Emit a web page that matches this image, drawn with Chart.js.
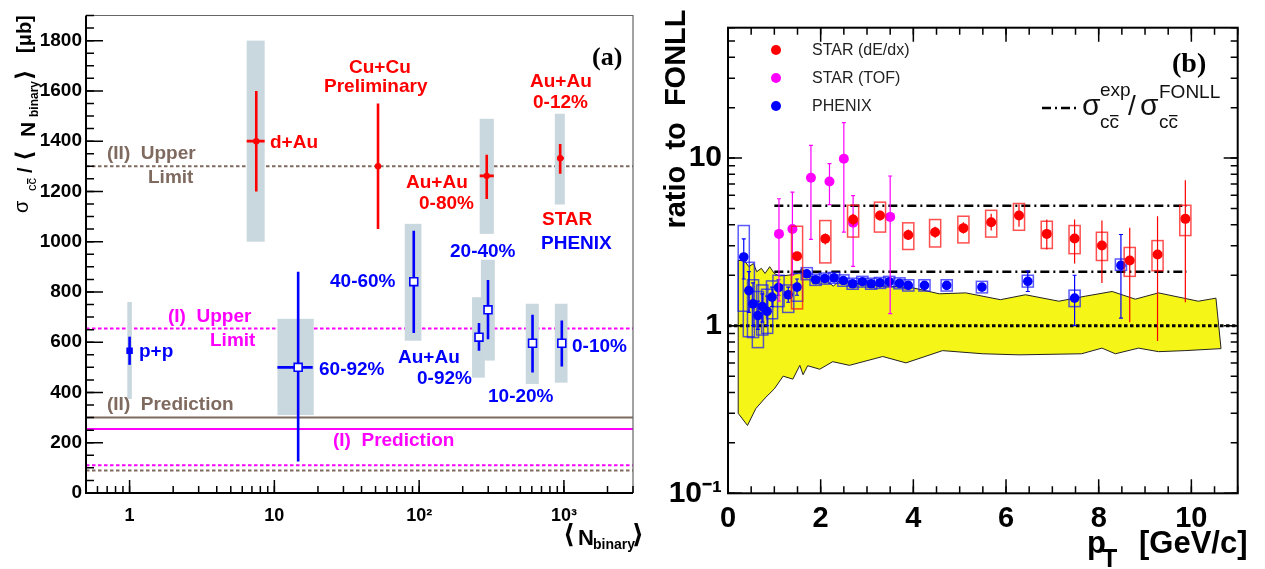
<!DOCTYPE html>
<html>
<head>
<meta charset="utf-8">
<script src="https://cdn.jsdelivr.net/npm/chart.js@4.4.1/dist/chart.umd.min.js"></script>
<style>
  html, body { margin: 0; padding: 0; background: #fff; }
  #wrap { position: relative; width: 1265px; height: 569px; }
  #boxA { position: absolute; left: 0; top: 0; width: 655px; height: 569px; }
  #boxB { position: absolute; left: 655px; top: 0; width: 610px; height: 569px; }
</style>
</head>
<body>
<div id="wrap">
  <div id="boxA"><canvas id="chartA"></canvas></div>
  <div id="boxB"><canvas id="chartB"></canvas></div>
</div>
<script>
// ---------- panel (a): sigma_cc / <Nbinary> vs <Nbinary> ----------
const nBinRange = [0.5, 3000];
const sigmaRange = [0, 1900];

// STAR (red)
const starNames = ['d+Au', 'Cu+Cu', 'Au+Au 0-80%', 'Au+Au 0-12%'];
const starNbin = [7.5, 52, 293, 942];
const starSigma = [1400, 1300, 1262, 1332];
const starStatLo = [1200, 1050, 1170, 1270];
const starStatHi = [1600, 1550, 1346, 1389];
const starSystLo = [1000, null, 1031, 1148];
const starSystHi = [1800, null, 1489, 1509];
const starBoxLo = [6.44, null, 262, 865];
const starBoxHi = [8.57, null, 328, 1014];
const starXErrLo = [6.44, null, 262, 905];
const starXErrHi = [8.57, null, 328, 1000];

// PHENIX Au+Au centrality bins (blue open squares)
const phenixNames = ['60-92%', '40-60%', '0-92%', '20-40%', '10-20%', '0-10%'];
const phenixNbin = [14.6, 91.8, 259, 299, 607, 967];
const phenixSigma = [500, 841, 620, 729, 596, 596];
const phenixStatLo = [125, 637, 566, 612, 479, 503];
const phenixStatHi = [880, 1044, 676, 848, 709, 686];
const phenixSystLo = [310, 606, 459, 527, 434, 439];
const phenixSystHi = [693, 1071, 779, 928, 753, 753];
const phenixBoxLo = [10.5, 79.5, 232, 267, 545, 865];
const phenixBoxHi = [18.7, 103.7, 284, 333, 671, 1059];
const phenixXErrLo = [10.5, null, null, null, null, null];
const phenixXErrHi = [18.4, null, null, null, null, null];

// PHENIX p+p
const ppNbin = [1];
const ppSigma = [566];
const ppStatLo = [510];
const ppStatHi = [622];
const ppSystLo = [374];
const ppSystHi = [760];
const ppBoxLo = [0.964];
const ppBoxHi = [1.037];

// model lines
const modelNames = ['(II) Upper Limit', '(I) Upper Limit', '(II) Prediction', '(I) Prediction', '(I) lower', '(II) lower'];
const modelSigma = [1300, 655, 300, 255, 110, 90];

// ---------- panel (b): ratio to FONLL vs pT ----------
const ptRange = [0, 11];
const ratioRange = [0.1, 60];

// FONLL uncertainty band
const bandUpperPt = [0.22, 0.35, 0.45, 0.55, 0.62, 0.72, 0.8, 0.9, 1.0, 1.1, 1.3, 1.5, 1.6, 1.7, 1.9, 2.1, 2.27, 2.4, 2.7, 3.0, 3.5, 4.0, 4.56, 5.13, 5.88, 6.42, 7.14, 7.71, 8.29, 8.79, 9.29, 10.15, 10.53];
const bandUpper = [2.45, 2.45, 2.25, 2.35, 2.1, 2.2, 2.05, 2.25, 2.05, 1.98, 2.0, 2.05, 2.2, 2.0, 1.95, 1.9, 1.72, 1.85, 1.8, 1.75, 1.72, 1.68, 1.55, 1.57, 1.43, 1.53, 1.40, 1.50, 1.60, 1.44, 1.57, 1.40, 1.46];
const bandLowerPt = [0.22, 0.42, 0.6, 0.8, 1.0, 1.19, 1.4, 1.55, 1.62, 1.72, 1.98, 2.26, 2.62, 3.34, 3.84, 4.63, 5.5, 6.28, 7.63, 8.07, 8.36, 8.86, 9.29, 9.86, 10.64];
const bandLower = [0.30, 0.254, 0.32, 0.37, 0.42, 0.50, 0.48, 0.58, 0.51, 0.577, 0.55, 0.61, 0.58, 0.655, 0.60, 0.71, 0.68, 0.67, 0.68, 0.735, 0.68, 0.735, 0.70, 0.71, 0.73];

// sigma_exp / sigma_FONLL levels (STAR, PHENIX)
const ratioLevels = [5.2, 2.1];
const ratioLevelPt = [1.0, 9.9];

// STAR (dE/dx)
const dedxPt = [1.49, 2.10, 2.70, 3.28, 3.89, 4.47, 5.08, 5.68, 6.28, 6.88, 7.48, 8.07, 8.67, 9.27, 9.87];
const dedxR = [2.60, 3.30, 4.30, 4.54, 3.48, 3.61, 3.82, 4.14, 4.54, 3.53, 3.31, 3.01, 2.45, 2.66, 4.34];
const dedxStatLo = [2.45, 3.05, 3.95, 4.25, 3.25, 3.35, 3.55, 3.70, 3.90, 2.85, 2.35, 1.80, 1.05, 0.81, 1.38];
const dedxStatHi = [2.75, 3.55, 4.65, 4.85, 3.75, 3.90, 4.15, 4.65, 5.30, 4.30, 4.30, 4.24, 3.84, 4.50, 7.37];
const dedxSysLo = [1.26, 2.37, 3.38, 3.62, 2.85, 2.95, 3.12, 3.38, 3.71, 2.89, 2.69, 2.45, 1.97, 2.13, 3.45];
const dedxSysHi = [3.92, 4.24, 5.23, 5.46, 4.11, 4.30, 4.50, 4.88, 5.36, 4.20, 3.96, 3.61, 2.93, 3.22, 5.23];

// STAR (TOF)
const tofPt = [1.10, 1.39, 1.79, 2.19, 2.50, 2.70, 3.50];
const tofR = [3.53, 3.78, 7.63, 7.26, 9.92, 4.11, 4.46];
const tofStatLo = [1.40, 2.00, 3.27, 5.28, 3.62, 2.26, 1.18];
const tofStatHi = [5.72, 6.27, 11.9, 9.27, 16.3, 5.98, 7.82];

// PHENIX
const phxPt = [0.34, 0.45, 0.54, 0.645, 0.74, 0.845, 0.95, 1.09, 1.30, 1.49, 1.70, 1.89, 2.09, 2.29, 2.49, 2.69, 2.90, 3.09, 3.28, 3.48, 3.70, 3.89, 4.24, 4.72, 5.48, 6.47, 7.48, 8.48];
const phxR = [2.57, 1.62, 1.35, 1.15, 1.30, 1.22, 1.48, 1.69, 1.53, 1.70, 2.04, 1.88, 1.91, 1.93, 1.86, 1.78, 1.83, 1.78, 1.80, 1.83, 1.79, 1.74, 1.74, 1.74, 1.70, 1.84, 1.46, 2.29];
const phxStatLo = [1.90, 1.20, 1.00, 0.95, 1.05, 1.00, 1.30, 1.52, 1.38, 1.52, 1.96, 1.82, 1.86, 1.88, 1.81, 1.74, 1.78, 1.74, 1.76, 1.79, 1.75, 1.70, 1.70, 1.69, 1.64, 1.60, 1.00, 1.11];
const phxStatHi = [3.30, 2.10, 1.80, 1.40, 1.55, 1.50, 1.70, 1.88, 1.70, 1.90, 2.12, 1.94, 1.96, 1.98, 1.91, 1.83, 1.88, 1.83, 1.85, 1.88, 1.84, 1.79, 1.79, 1.80, 1.77, 2.12, 2.00, 3.50];
const phxSysLo = [1.22, 0.86, 0.85, 0.74, 0.88, 0.90, 1.10, 1.30, 1.20, 1.40, 1.88, 1.74, 1.77, 1.79, 1.72, 1.65, 1.70, 1.65, 1.67, 1.70, 1.66, 1.61, 1.61, 1.61, 1.57, 1.70, 1.30, 2.14];
const phxSysHi = [3.96, 2.39, 1.88, 1.60, 1.75, 1.65, 1.85, 2.00, 1.75, 2.05, 2.22, 2.03, 2.06, 2.08, 2.01, 1.92, 1.97, 1.92, 1.94, 1.97, 1.93, 1.88, 1.88, 1.88, 1.84, 2.00, 1.63, 2.50];
const sysHalfWidthPt = 0.12;

// ---------- styles ----------
const FONT = '"Liberation Sans", Arial, Helvetica, sans-serif';
const SERIF = '"Liberation Serif", "Times New Roman", serif';
const RED = '#ff0000', BLUE = '#0000ff', MAG = '#ff00ff', BROWN = '#7f6a5f';
const GREY = 'rgb(201,215,222)', YELLOW = '#f5f517';

Chart.defaults.font.family = FONT;
Chart.defaults.color = '#000';
Chart.defaults.animation = false;
Chart.defaults.plugins.legend.display = false;
Chart.defaults.plugins.tooltip.enabled = false;

const toXY = (xs, ys) => xs.map((x, i) => ({ x, y: ys[i] }));

// minor ticks of a log axis: 1..9 x each decade inside [min, max]
function logSteps(min, max) {
  const out = [];
  for (let e = Math.floor(Math.log10(min)); e <= Math.ceil(Math.log10(max)); e++) {
    for (let m = 1; m <= 9; m++) {
      const v = m * Math.pow(10, e);
      if (v >= min * 0.999 && v <= max * 1.001) out.push(v);
    }
  }
  return out;
}
function linSteps(min, max, step) {
  const out = [];
  for (let v = min; v <= max + 1e-9; v += step) out.push(+v.toFixed(6));
  return out;
}

// inward tick marks, optionally mirrored on the opposite side
function tickMarks(chart, axis, values, len, mirror) {
  const { ctx, chartArea: a } = chart;
  const s = chart.scales[axis];
  ctx.beginPath();
  values.forEach(v => {
    const p = s.getPixelForValue(v);
    if (axis === 'x') {
      ctx.moveTo(p, a.bottom); ctx.lineTo(p, a.bottom - len);
      if (mirror) { ctx.moveTo(p, a.top); ctx.lineTo(p, a.top + len); }
    } else {
      ctx.moveTo(a.left, p); ctx.lineTo(a.left + len, p);
      if (mirror) { ctx.moveTo(a.right, p); ctx.lineTo(a.right - len, p); }
    }
  });
  ctx.stroke();
}

// draw pieces of text (sub/superscripts); bar = overline on last char
function drawParts(ctx, parts) {
  parts.forEach(p => {
    ctx.font = p.font;
    ctx.fillText(p.t, p.x, p.y);
    if (p.bar) {
      const w = ctx.measureText(p.t).width;
      const wl = ctx.measureText(p.t.slice(-1)).width;
      ctx.fillRect(p.x + w - wl + 0.5, p.y - p.bar, wl - 1, 1.3);
    }
  });
}

// ---------- panel (a) ----------
const errA = {
  star: { x: starNbin, y: starSigma, lo: starStatLo, hi: starStatHi, sLo: starSystLo, sHi: starSystHi,
          bLo: starBoxLo, bHi: starBoxHi, xLo: starXErrLo, xHi: starXErrHi, color: RED },
  phenix: { x: phenixNbin, y: phenixSigma, lo: phenixStatLo, hi: phenixStatHi, sLo: phenixSystLo, sHi: phenixSystHi,
            bLo: phenixBoxLo, bHi: phenixBoxHi, xLo: phenixXErrLo, xHi: phenixXErrHi, color: BLUE },
  pp: { x: ppNbin, y: ppSigma, lo: ppStatLo, hi: ppStatHi, sLo: ppSystLo, sHi: ppSystHi,
        bLo: ppBoxLo, bHi: ppBoxHi, xLo: [null], xHi: [null], color: BLUE }
};

const modelStyle = [
  { color: BROWN, dash: [3.5, 2.5] },
  { color: MAG, dash: [3.5, 2.5] },
  { color: BROWN, dash: [] },
  { color: MAG, dash: [] },
  { color: MAG, dash: [3.5, 2.5] },
  { color: BROWN, dash: [3.5, 2.5] }
];

const notesA = [
  ['(II)  Upper', 107, 154, BROWN], ['Limit', 148, 178, BROWN],
  ['d+Au', 270, 143, RED],
  ['Cu+Cu', 349, 68, RED], ['Preliminary', 324, 87, RED],
  ['Au+Au', 530, 82, RED], ['0-12%', 533, 103, RED],
  ['Au+Au', 406, 183, RED], ['0-80%', 419, 204, RED],
  ['STAR', 542, 220, RED], ['PHENIX', 541, 244, BLUE],
  ['20-40%', 450, 252, BLUE], ['40-60%', 330, 282, BLUE],
  ['p+p', 139, 352, BLUE],
  ['(I)  Upper', 168, 317, MAG], ['Limit', 210, 341, MAG],
  ['60-92%', 319, 370, BLUE],
  ['Au+Au', 398, 358, BLUE], ['0-92%', 417, 379, BLUE],
  ['0-10%', 572, 347, BLUE], ['10-20%', 488, 397, BLUE],
  ['(II)  Prediction', 107, 405, BROWN],
  ['(I)  Prediction', 333, 441, MAG]
];

const panelA = {
  id: 'panelA',
  beforeDatasetDraw(chart, args) {
    const e = errA[chart.data.datasets[args.index].errKey];
    if (!e) return;
    const { ctx, scales: { x: sx, y: sy } } = chart;
    ctx.save();
    ctx.fillStyle = GREY;
    e.x.forEach((xv, i) => {
      if (e.sLo[i] == null) return;
      const x1 = sx.getPixelForValue(e.bLo[i]), x2 = sx.getPixelForValue(e.bHi[i]);
      const y1 = sy.getPixelForValue(e.sHi[i]), y2 = sy.getPixelForValue(e.sLo[i]);
      ctx.fillRect(x1, y1, x2 - x1, y2 - y1);
    });
    ctx.strokeStyle = e.color;
    ctx.lineWidth = 2.6;
    ctx.beginPath();
    e.x.forEach((xv, i) => {
      const px = sx.getPixelForValue(xv), py = sy.getPixelForValue(e.y[i]);
      ctx.moveTo(px, sy.getPixelForValue(e.lo[i]));
      ctx.lineTo(px, sy.getPixelForValue(e.hi[i]));
      if (e.xLo[i] != null) {
        ctx.moveTo(sx.getPixelForValue(e.xLo[i]), py);
        ctx.lineTo(sx.getPixelForValue(e.xHi[i]), py);
      }
    });
    ctx.stroke();
    ctx.restore();
  },
  afterDraw(chart) {
    const { ctx, chartArea: a } = chart;
    ctx.save();
    // frame
    ctx.strokeStyle = '#666'; ctx.lineWidth = 1.2;
    ctx.beginPath(); ctx.moveTo(a.left, a.top); ctx.lineTo(a.right, a.top); ctx.lineTo(a.right, a.bottom); ctx.stroke();
    ctx.strokeStyle = '#000'; ctx.lineWidth = 2;
    ctx.beginPath(); ctx.moveTo(a.left, a.top); ctx.lineTo(a.left, a.bottom); ctx.lineTo(a.right, a.bottom); ctx.stroke();
    ctx.lineWidth = 1.5;
    tickMarks(chart, 'y', linSteps(0, 1900, 50), 8, false);
    tickMarks(chart, 'y', linSteps(0, 1800, 200), 17, false);
    tickMarks(chart, 'x', logSteps(0.5, 3000), 7, false);
    tickMarks(chart, 'x', [1, 10, 100, 1000], 13, false);

    // annotations
    ctx.textBaseline = 'middle'; ctx.textAlign = 'left';
    ctx.font = 'bold 19px ' + FONT;
    notesA.forEach(([t, x, y, c]) => { ctx.fillStyle = c; ctx.fillText(t, x, y); });
    ctx.fillStyle = '#000';
    ctx.font = 'bold 26px ' + SERIF;
    ctx.fillText('(a)', 592, 58);

    // x title  <N_binary>
    ctx.textBaseline = 'alphabetic';
    drawParts(ctx, [
      { t: '\u27E8', font: 'bold 26px "DejaVu Sans"', x: 563, y: 543 },
      { t: 'N', font: 'bold 22px ' + FONT, x: 578, y: 545 },
      { t: 'binary', font: 'bold 14px ' + FONT, x: 593, y: 549 },
      { t: '\u27E9', font: 'bold 26px "DejaVu Sans"', x: 632, y: 543 }
    ]);

    // y title  sigma_cc / <N_binary> [mu b]
    ctx.translate(33, 213);
    ctx.rotate(-Math.PI / 2);
    drawParts(ctx, [
      { t: '\u03C3', font: '20px ' + FONT, x: 0, y: -5 },
      { t: 'cc', font: '13px ' + FONT, x: 22, y: 3, bar: 9 },
      { t: '/', font: 'bold 20px ' + FONT, x: 40, y: -1 },
      { t: '\u27E8', font: 'bold 23px "DejaVu Sans"', x: 52, y: -1 },
      { t: 'N', font: 'bold 21px ' + FONT, x: 76, y: 2 },
      { t: 'binary', font: 'bold 12px ' + FONT, x: 96, y: 5 },
      { t: '\u27E9', font: 'bold 23px "DejaVu Sans"', x: 133, y: -1 },
      { t: '[\u03BCb]', font: 'bold 20px ' + FONT, x: 160, y: -2 }
    ]);
    ctx.restore();
  }
};

new Chart(document.getElementById('chartA'), {
  type: 'scatter',
  data: {
    datasets: [
      ...modelSigma.map((v, i) => ({
        type: 'line', label: modelNames[i], order: 3,
        data: [{ x: nBinRange[0], y: v }, { x: nBinRange[1], y: v }],
        borderColor: modelStyle[i].color, borderDash: modelStyle[i].dash,
        borderWidth: 2, pointRadius: 0, fill: false
      })),
      { label: 'STAR', errKey: 'star', order: 2, data: toXY(starNbin, starSigma),
        pointStyle: 'circle', pointRadius: 3.2, pointBackgroundColor: RED, pointBorderColor: RED, pointBorderWidth: 0 },
      { label: 'PHENIX', errKey: 'phenix', order: 1, data: toXY(phenixNbin, phenixSigma),
        pointStyle: 'rect', pointRadius: 5.6, pointBackgroundColor: '#fff', pointBorderColor: BLUE, pointBorderWidth: 1.6 },
      { label: 'p+p', errKey: 'pp', order: 1, data: toXY(ppNbin, ppSigma),
        pointStyle: 'rect', pointRadius: 4.6, pointBackgroundColor: BLUE, pointBorderColor: BLUE, pointBorderWidth: 0 }
    ]
  },
  options: {
    responsive: true,
    maintainAspectRatio: false,
    layout: { padding: { top: 15.5, right: 22, left: 0, bottom: 0 } },
    scales: {
      x: {
        type: 'logarithmic', min: nBinRange[0], max: nBinRange[1],
        grid: { display: false, drawTicks: false }, border: { display: false },
        afterBuildTicks: s => { s.ticks = [1, 10, 100, 1000].map(v => ({ value: v })); },
        ticks: {
          autoSkip: false, maxRotation: 0, padding: 12,
          font: { size: 18, weight: 'bold' },
          callback: v => ({ 1: '1', 10: '10', 100: '10\u00B2', 1000: '10\u00B3' })[v]
        },
        afterFit: s => { s.height = 76; }
      },
      y: {
        type: 'linear', min: sigmaRange[0], max: sigmaRange[1],
        grid: { display: false, drawTicks: false }, border: { display: false },
        afterBuildTicks: s => { s.ticks = linSteps(0, 1800, 200).map(v => ({ value: v })); },
        ticks: { padding: 4, font: { size: 19, weight: 'bold' }, callback: v => String(v) },
        afterFit: s => { s.width = 86; }
      }
    }
  },
  plugins: [panelA]
});

// ---------- panel (b) ----------
const OFFB = 655; // page x of canvas (b)
const errB = {
  phenix: { x: phxPt, lo: phxStatLo, hi: phxStatHi, sLo: phxSysLo, sHi: phxSysHi, color: BLUE, box: 'rgba(20,20,255,0.7)', cap: 2 },
  tof: { x: tofPt, lo: tofStatLo, hi: tofStatHi, sLo: null, sHi: null, color: MAG, cap: 2 },
  dedx: { x: dedxPt, lo: dedxStatLo, hi: dedxStatHi, sLo: dedxSysLo, sHi: dedxSysHi, color: RED, box: 'rgba(255,20,20,0.75)', cap: 0 }
};

const bandShape = [
  ...toXY(bandUpperPt, bandUpper),
  ...toXY(bandLowerPt, bandLower).reverse()
];
bandShape.push(bandShape[0]);

const panelB = {
  id: 'panelB',
  beforeDatasetDraw(chart, args) {
    const e = errB[chart.data.datasets[args.index].errKey];
    if (!e) return;
    const { ctx, scales: { x: sx, y: sy } } = chart;
    ctx.save();
    if (e.sLo) {
      ctx.strokeStyle = e.box; ctx.lineWidth = 1.5;
      e.x.forEach((xv, i) => {
        const x1 = sx.getPixelForValue(xv - sysHalfWidthPt), x2 = sx.getPixelForValue(xv + sysHalfWidthPt);
        const y1 = sy.getPixelForValue(e.sHi[i]), y2 = sy.getPixelForValue(e.sLo[i]);
        ctx.strokeRect(x1, y1, x2 - x1, y2 - y1);
      });
    }
    ctx.strokeStyle = e.color; ctx.lineWidth = 1.2;
    ctx.beginPath();
    e.x.forEach((xv, i) => {
      const px = sx.getPixelForValue(xv);
      const p1 = sy.getPixelForValue(e.lo[i]), p2 = sy.getPixelForValue(e.hi[i]);
      ctx.moveTo(px, p1); ctx.lineTo(px, p2);
      if (e.cap) {
        ctx.moveTo(px - e.cap, p1); ctx.lineTo(px + e.cap, p1);
        ctx.moveTo(px - e.cap, p2); ctx.lineTo(px + e.cap, p2);
      }
    });
    ctx.stroke();
    ctx.restore();
  },
  afterDraw(chart) {
    const { ctx, chartArea: a } = chart;
    const X = px => px - OFFB;
    ctx.save();
    ctx.strokeStyle = '#000'; ctx.lineWidth = 2;
    ctx.strokeRect(a.left, a.top, a.right - a.left, a.bottom - a.top);
    ctx.lineWidth = 1.5;
    tickMarks(chart, 'x', linSteps(0, 11, 0.5), 7, true);
    tickMarks(chart, 'x', linSteps(0, 10, 2), 14, true);
    tickMarks(chart, 'y', logSteps(0.1, 60), 7, true);
    tickMarks(chart, 'y', [0.1, 1, 10], 14, true);

    // legend
    const legend = [['STAR (dE/dx)', RED, 50], ['STAR (TOF)', MAG, 78], ['PHENIX', BLUE, 106]];
    ctx.textBaseline = 'middle'; ctx.textAlign = 'left';
    ctx.font = '16px ' + FONT;
    legend.forEach(([t, c, y]) => {
      ctx.fillStyle = c;
      ctx.beginPath(); ctx.arc(X(776), y, 5, 0, Math.PI * 2); ctx.fill();
      ctx.fillStyle = '#222';
      ctx.fillText(t, X(812), y + 1);
    });

    // dash-dot legend entry
    ctx.strokeStyle = '#000'; ctx.lineWidth = 2.5; ctx.setLineDash([9, 4, 2, 4]);
    ctx.beginPath(); ctx.moveTo(X(1042), 108); ctx.lineTo(X(1076), 108); ctx.stroke();
    ctx.setLineDash([]);
    ctx.fillStyle = '#111'; ctx.textBaseline = 'alphabetic';
    drawParts(ctx, [
      { t: '\u03C3', font: '30px ' + FONT, x: X(1082), y: 115 },
      { t: 'exp', font: '19px ' + FONT, x: X(1100), y: 96 },
      { t: 'cc', font: '19px ' + FONT, x: X(1100), y: 128, bar: 13 },
      { t: '/', font: '28px ' + FONT, x: X(1128), y: 115 },
      { t: '\u03C3', font: '30px ' + FONT, x: X(1140), y: 115 },
      { t: 'FONLL', font: '19px ' + FONT, x: X(1159), y: 98 },
      { t: 'cc', font: '19px ' + FONT, x: X(1159), y: 128, bar: 13 }
    ]);

    ctx.fillStyle = '#000';
    ctx.font = 'bold 28px ' + SERIF;
    ctx.fillText('(b)', X(1172), 72);

    // x title
    drawParts(ctx, [
      { t: 'p', font: 'bold 31px ' + FONT, x: X(1087), y: 553 },
      { t: 'T', font: 'bold 25px ' + FONT, x: X(1102), y: 567 },
      { t: '[GeV/c]', font: 'bold 31px ' + FONT, x: X(1139), y: 553 }
    ]);

    // y title
    ctx.translate(X(677), 119);
    ctx.rotate(-Math.PI / 2);
    ctx.textAlign = 'center'; ctx.textBaseline = 'middle';
    ctx.font = 'bold 29px ' + FONT;
    ctx.fillText('ratio  to  FONLL', 0, 0);
    ctx.restore();
  }
};

const lineB = (pts, dash, width, order, label) => ({
  type: 'line', label, order, data: pts, borderColor: '#000', borderDash: dash,
  borderWidth: width, pointRadius: 0, fill: false
});

new Chart(document.getElementById('chartB'), {
  type: 'scatter',
  data: {
    datasets: [
      { type: 'line', label: 'FONLL band', order: 5, data: bandShape, fill: 'shape',
        backgroundColor: YELLOW, borderColor: '#222', borderWidth: 1, pointRadius: 0, tension: 0 },
      lineB([{ x: ptRange[0], y: 1 }, { x: ptRange[1], y: 1 }], [3.5, 2.5], 3, 4, 'unity'),
      ...ratioLevels.map((v, i) => lineB([{ x: ratioLevelPt[0], y: v }, { x: ratioLevelPt[1], y: v }],
        [9, 4, 2, 4], 2.5, 4, 'sigma ratio ' + i)),
      { label: 'PHENIX', errKey: 'phenix', order: 3, data: toXY(phxPt, phxR),
        pointStyle: 'circle', pointRadius: 4.8, pointBackgroundColor: BLUE, pointBorderWidth: 0 },
      { label: 'STAR (TOF)', errKey: 'tof', order: 2, data: toXY(tofPt, tofR),
        pointStyle: 'circle', pointRadius: 5, pointBackgroundColor: MAG, pointBorderWidth: 0 },
      { label: 'STAR (dE/dx)', errKey: 'dedx', order: 1, data: toXY(dedxPt, dedxR),
        pointStyle: 'circle', pointRadius: 5, pointBackgroundColor: RED, pointBorderWidth: 0 }
    ]
  },
  options: {
    responsive: true,
    maintainAspectRatio: false,
    layout: { padding: { top: 27.7, right: 27.3, left: 0, bottom: 0 } },
    scales: {
      x: {
        type: 'linear', min: ptRange[0], max: ptRange[1],
        grid: { display: false, drawTicks: false }, border: { display: false },
        afterBuildTicks: s => { s.ticks = linSteps(0, 10, 2).map(v => ({ value: v })); },
        ticks: { autoSkip: false, maxRotation: 0, padding: 8, font: { size: 29, weight: 'bold' } },
        afterFit: s => { s.height = 75.7; }
      },
      y: {
        type: 'logarithmic', min: ratioRange[0], max: ratioRange[1],
        grid: { display: false, drawTicks: false }, border: { display: false },
        afterBuildTicks: s => { s.ticks = [0.1, 1, 10].map(v => ({ value: v })); },
        ticks: {
          padding: 6, font: { size: 30, weight: 'bold' },
          callback: v => ({ 0.1: '10\u207B\u00B9', 1: '1', 10: '10' })[v]
        },
        afterFit: s => { s.width = 73; }
      }
    }
  },
  plugins: [panelB]
});
</script>
</body>
</html>
